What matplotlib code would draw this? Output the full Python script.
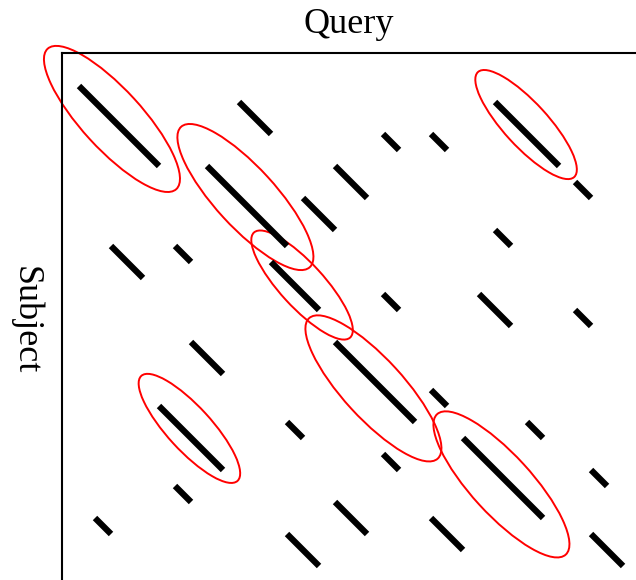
import matplotlib
matplotlib.use('Agg')
import matplotlib.pyplot as plt
from matplotlib.patches import Ellipse

# word matches: query start, subject start, run length (in word positions)
query_pos = [0, 10, 8, 14, 2, 6, 12, 19, 22, 16, 26, 31, 26, 7, 5, 13, 6, 1, 13,
             19, 25, 31, 16, 22, 28, 19, 24, 32, 16, 22, 32]
subject_pos = [0, 1, 5, 7, 10, 10, 11, 3, 3, 5, 1, 6, 9, 16, 20, 21, 25, 27, 28,
               13, 13, 14, 16, 19, 21, 23, 22, 24, 26, 27, 28]
run_len = [5, 2, 5, 2, 2, 1, 3, 1, 1, 2, 4, 1, 1, 2, 4, 1, 1, 1, 2,
           1, 2, 1, 5, 1, 1, 1, 5, 1, 2, 2, 2]

# highlighted diagonals (HSP regions)
hsp_q = [2.06, 10.4, 13.94, 27.94, 6.9, 18.4, 26.4]
hsp_s = [2.06, 6.94, 12.44, 2.41, 21.4, 18.9, 24.9]
hsp_w = [11.9, 11.9, 8.9, 8.9, 8.9, 11.9, 11.9]
hsp_h = [3.75, 3.75, 2.75, 2.75, 2.75, 3.75, 3.75]

fig = plt.figure(figsize=(6.36, 5.8), dpi=100)
ax = fig.add_axes([62 / 636, 0, 574 / 636, 527.3 / 580])

for q, s, n in zip(query_pos, subject_pos, run_len):
    ax.plot([q, q + n], [s, s + n], color='black', lw=4.5, solid_capstyle='butt')

for q, s, w, h in zip(hsp_q, hsp_s, hsp_w, hsp_h):
    ax.add_patch(Ellipse((q, s), w, h, angle=47.5, fill=False,
                         edgecolor='red', lw=1.4, clip_on=False))

ax.set_xlim(-1.0625, 34.81)
ax.set_ylim(30.875, -2.08)
ax.set_xticks([])
ax.set_yticks([])
ax.spines['right'].set_visible(False)
ax.spines['bottom'].set_visible(False)
ax.spines['left'].set_linewidth(1.5)
ax.spines['top'].set_linewidth(1.5)

fig.text(349 / 636, 1 - 33 / 580, 'Query', ha='center', va='baseline',
         fontsize=26, family='Liberation Serif')
fig.text(9 / 636, 1 - 320 / 580, 'Subject', ha='left', va='center',
         rotation=-90, fontsize=26, family='Liberation Serif')

fig.savefig('out.png', dpi=100)
